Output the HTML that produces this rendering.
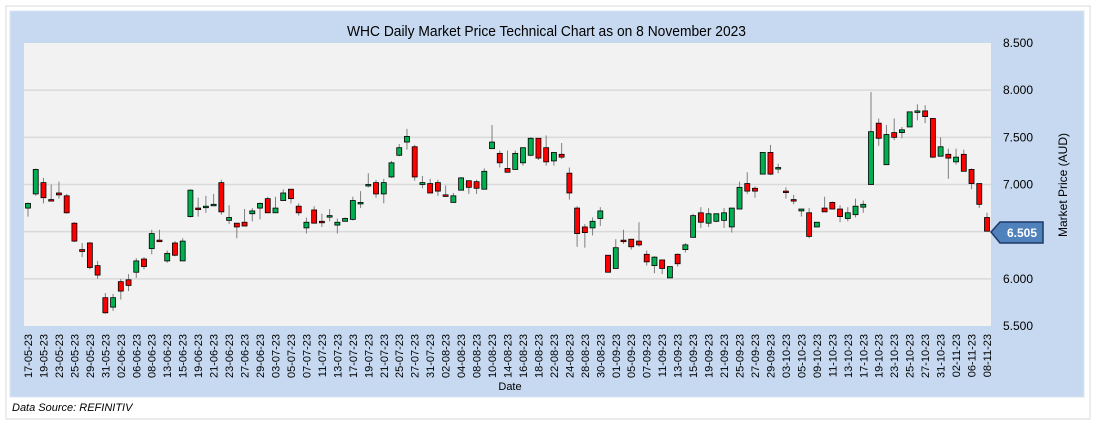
<!DOCTYPE html>
<html><head><meta charset="utf-8">
<style>
html,body{margin:0;padding:0;background:#fff;}
body{width:1093px;height:425px;overflow:hidden;font-family:"Liberation Sans",sans-serif;}
</style></head>
<body>
<svg id="chart" width="1093" height="425" xmlns="http://www.w3.org/2000/svg">
  <rect x="6" y="6" width="1084" height="413" fill="#fff" stroke="#d9d9d9" stroke-width="1"/>
  <rect x="10" y="11" width="1074" height="386" fill="#c6d9f0" stroke="#dce6f2"/>
  <rect x="24" y="43" width="967" height="283" fill="#f2f2f2"/>
  <g id="grid"></g>
  <g id="candles"></g>
  <g id="yticks"></g>
  <g id="xticks"></g>
  <text x="347" y="36" font-size="15" fill="#000" textLength="399" lengthAdjust="spacingAndGlyphs">WHC Daily Market Price Technical Chart as on 8 November 2023</text>
  <text x="510" y="390" font-size="11" text-anchor="middle" fill="#000">Date</text>
  <text transform="translate(1067,185) rotate(-90)" font-size="12" text-anchor="middle" fill="#000">Market Price (AUD)</text>
  <g>
    <polygon points="991,232 1000,222 1043,222 1043,243 1000,243" fill="#4f81bd" stroke="#1f3864" stroke-width="1.5"/>
    <text x="1022" y="237" font-size="12" font-weight="bold" fill="#fff" text-anchor="middle">6.505</text>
  </g>
  <text x="12" y="411" font-size="11" font-style="italic" fill="#000">Data Source: REFINITIV</text>
</svg>
<script>
const opens = [6.75,6.90,7.02,6.84,6.91,6.88,6.59,6.31,6.38,6.14,5.80,5.70,5.97,5.99,6.07,6.21,6.32,6.41,6.19,6.38,6.19,6.66,6.75,6.76,6.78,7.02,6.62,6.59,6.60,6.69,6.75,6.85,6.70,6.83,6.95,6.77,6.54,6.73,6.61,6.66,6.57,6.61,6.63,6.80,6.99,7.02,6.90,7.08,7.31,7.45,7.40,7.00,7.01,7.02,6.89,6.81,6.94,7.04,7.03,6.95,7.38,7.33,7.17,7.16,7.23,7.31,7.49,7.39,7.25,7.32,7.12,6.75,6.55,6.54,6.64,6.25,6.11,6.41,6.42,6.40,6.26,6.14,6.20,6.01,6.26,6.31,6.44,6.70,6.59,6.61,6.62,6.55,6.74,7.01,6.96,7.11,7.34,7.17,6.93,6.84,6.72,6.70,6.55,6.75,6.81,6.74,6.64,6.68,6.76,7.00,7.65,7.21,7.55,7.55,7.61,7.77,7.78,7.70,7.30,7.32,7.24,7.32,7.16,7.01,6.65];
const closes = [6.80,7.16,6.86,6.83,6.89,6.70,6.40,6.29,6.12,6.04,5.64,5.80,5.87,5.93,6.19,6.13,6.48,6.40,6.27,6.25,6.40,6.94,6.74,6.77,6.79,6.71,6.65,6.55,6.56,6.72,6.80,6.70,6.75,6.91,6.85,6.70,6.60,6.59,6.60,6.67,6.60,6.64,6.83,6.81,7.00,6.90,7.02,7.23,7.39,7.51,7.08,7.02,6.91,6.93,6.88,6.88,7.07,6.97,6.96,7.14,7.45,7.23,7.13,7.33,7.39,7.49,7.28,7.24,7.34,7.29,6.91,6.48,6.49,6.61,6.72,6.07,6.33,6.40,6.34,6.36,6.18,6.23,6.11,6.13,6.16,6.36,6.67,6.60,6.69,6.69,6.70,6.75,6.97,6.93,6.93,7.34,7.11,7.18,6.92,6.83,6.74,6.45,6.60,6.71,6.74,6.66,6.70,6.77,6.79,7.56,7.49,7.53,7.50,7.58,7.77,7.78,7.72,7.29,7.40,7.28,7.29,7.14,7.01,6.79,6.505];
const highs = [6.81,7.17,7.07,7.00,7.03,6.90,6.60,6.38,6.39,6.19,5.85,5.84,6.00,6.05,6.22,6.23,6.52,6.52,6.30,6.40,6.43,6.95,6.86,6.88,6.90,7.05,6.78,6.59,6.74,6.75,6.81,6.87,6.87,6.95,6.95,6.80,6.65,6.77,6.69,6.74,6.64,6.65,6.87,6.93,7.12,7.05,7.06,7.25,7.43,7.59,7.42,7.09,7.06,7.05,6.99,6.91,7.08,7.04,7.05,7.17,7.63,7.36,7.36,7.36,7.39,7.50,7.49,7.52,7.34,7.44,7.18,6.77,6.58,6.65,6.76,6.25,6.42,6.52,6.42,6.60,6.30,6.24,6.20,6.13,6.27,6.38,6.69,6.76,6.75,6.69,6.75,6.75,7.03,7.13,6.98,7.34,7.42,7.22,6.97,6.89,6.74,6.75,6.60,6.87,6.82,6.78,6.76,6.85,6.83,7.98,7.70,7.63,7.70,7.61,7.77,7.85,7.84,7.70,7.50,7.38,7.38,7.37,7.17,7.01,6.70];
const lows = [6.66,6.88,6.80,6.83,6.85,6.69,6.39,6.23,6.10,6.00,5.63,5.66,5.78,5.87,6.01,6.10,6.26,6.40,6.17,6.24,6.19,6.65,6.66,6.70,6.77,6.68,6.58,6.43,6.56,6.61,6.63,6.70,6.70,6.83,6.80,6.67,6.48,6.59,6.55,6.61,6.48,6.61,6.62,6.75,6.97,6.86,6.80,7.07,7.30,7.37,7.04,6.96,6.91,6.88,6.87,6.81,6.94,6.90,6.90,6.95,7.38,7.18,7.13,7.16,7.20,7.30,7.26,7.20,7.20,7.27,6.84,6.34,6.33,6.46,6.56,6.07,6.11,6.37,6.31,6.34,6.14,6.06,6.05,6.01,6.13,6.28,6.44,6.54,6.55,6.60,6.54,6.49,6.74,6.90,6.86,7.11,7.10,7.12,6.85,6.79,6.66,6.43,6.55,6.71,6.74,6.60,6.61,6.65,6.70,7.00,7.41,7.21,7.47,7.49,7.61,7.68,7.65,7.28,7.30,7.06,7.21,7.14,6.95,6.75,6.505];
const yTicks = [5.5,6.0,6.5,7.0,7.5,8.0,8.5];
const dateLabels = ["17-05-23","19-05-23","23-05-23","25-05-23","29-05-23","31-05-23","02-06-23","06-06-23","08-06-23","13-06-23","15-06-23","19-06-23","21-06-23","23-06-23","27-06-23","29-06-23","03-07-23","05-07-23","07-07-23","11-07-23","13-07-23","17-07-23","19-07-23","21-07-23","25-07-23","27-07-23","31-07-23","02-08-23","04-08-23","08-08-23","10-08-23","14-08-23","16-08-23","18-08-23","22-08-23","24-08-23","28-08-23","30-08-23","01-09-23","05-09-23","07-09-23","11-09-23","13-09-23","15-09-23","19-09-23","21-09-23","25-09-23","27-09-23","29-09-23","03-10-23","05-10-23","09-10-23","11-10-23","13-10-23","17-10-23","19-10-23","23-10-23","25-10-23","27-10-23","31-10-23","02-11-23","06-11-23","08-11-23"];

const NS = "http://www.w3.org/2000/svg";
const plotTop = 43, plotBottom = 326, yMin = 5.5, yMax = 8.5;
function yScale(v){ return plotBottom - (v - yMin) / (yMax - yMin) * (plotBottom - plotTop); }
const x0 = 28, xStep = (987 - 28) / 124;
function xScale(i){ return x0 + i * xStep; }
function mk(tag, attrs, parent){ const e = document.createElementNS(NS, tag); for (const k in attrs) e.setAttribute(k, attrs[k]); parent.appendChild(e); return e; }

const grid = document.getElementById('grid');
const yt = document.getElementById('yticks');
yTicks.forEach(v => {
  const y = yScale(v);
  if (v > yMin && v < yMax) {
    const l = mk('line', {x1:24, x2:991, y1:y, y2:y, stroke:'#d9d9d9', 'stroke-width':1.5}, grid);
    
    
  }
  const t = mk('text', {x:1003, y:y+4, 'font-size':12, fill:'#000'}, yt);
  t.textContent = v.toFixed(3);
  
  
});

const cg = document.getElementById('candles');
opens.forEach((o, i) => {
  const c = closes[i], x = xScale(i);
  const g = mk('g', {}, cg);
  
  
  mk('line', {x1:x, x2:x, y1:yScale(highs[i]), y2:yScale(lows[i]), stroke:'#7f7f7f', 'stroke-width':1}, g);
  const top = yScale(Math.max(o, c)), bot = yScale(Math.min(o, c));
  const h = Math.max(bot - top, 1.5);
  mk('rect', {x:x-2.5, y:top, width:5, height:h, fill: c >= o ? '#00b050' : '#ff0000', stroke:'#000', 'stroke-width':0.8}, g);
});

const xt = document.getElementById('xticks');
dateLabels.forEach((d, k) => {
  const x = xScale(k * 2);
  const t = mk('text', {transform:`translate(${x+4},334) rotate(-90)`, 'font-size':11, 'text-anchor':'end', fill:'#000'}, xt);
  t.textContent = d;
  
  
});
</script>
</body></html>
